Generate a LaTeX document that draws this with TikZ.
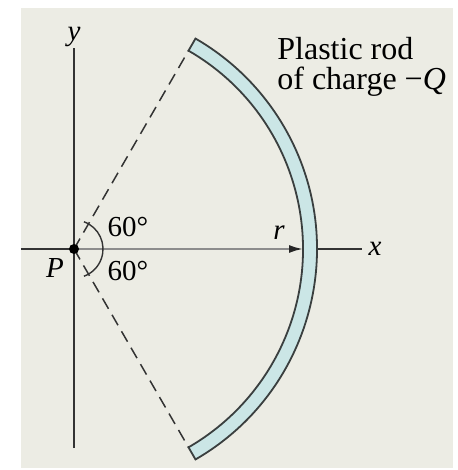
\documentclass[tikz,border=0pt]{standalone}
\usepackage{fontspec}
\setmainfont{Liberation Serif}
\usepackage{xcolor}
\usetikzlibrary{arrows.meta, positioning, calc}

\definecolor{paper}{HTML}{ECECE4}
\definecolor{rodfill}{HTML}{CBE6E6}
\definecolor{rodline}{HTML}{3A3F3F}

\begin{document}
\begin{tikzpicture}[
    x=0.5pt, y=0.5pt,
    axis/.style={line width=1pt, draw=black!80},
    rod/.style={fill=rodfill, draw=rodline, line width=0.9pt, line join=miter},
    guide/.style={dashed, line width=0.75pt, dash pattern=on 6pt off 3.5pt, draw=black!80},
    label/.style={font=\fontsize{14.5}{15}\selectfont, inner sep=1pt},
    biglabel/.style={font=\fontsize{16}{15}\selectfont, inner sep=1pt, anchor=base west},
    angle/.style={line width=0.7pt, draw=black!80}
  ]

    % Page and background
    \useasboundingbox (-74,-221) rectangle (384,249);
    \fill[paper] (-53,-219) rectangle (379,241);

    % Point and rod ends
    \coordinate (P) at (0,0);
    \coordinate (top) at (60:229);
    \coordinate (bot) at (-60:229);
    \coordinate (rin) at (229,0);
    \coordinate (rout) at (243,0);

    % Axes
    \coordinate (ytop) at (0,201);
    \coordinate (ybot) at (0,-199);
    \coordinate (xleft) at (-53,0);
    \coordinate (xright) at (288,0);
    \draw[axis] (ybot) -- (ytop);
    \draw[axis] (xleft) -- (P);
    \draw[axis] (rout) -- (xright);
    \node[label] (ylab) at (0,212) {\textit{y}};
    \node[label] (xlab) at (301,0) {\textit{x}};

    % Dashed guides
    \draw[guide] (P) -- (top);
    \draw[guide] (P) -- (bot);

    % Rod
    \draw[rod] (top) arc[start angle=60, end angle=-60, radius=229]
      -- (-60:243) arc[start angle=-60, end angle=60, radius=243] -- cycle;

    % Radius arrow
    \draw[line width=1pt, draw=black!45, -{Latex[length=7pt, width=4pt, black!85]}] (P) -- (rin);
    \node[label] (rlab) at (205,16) {\textit{r}};

    % Angles
    \draw[angle] (70:29) arc[start angle=70, end angle=-70, radius=29];
    \node[label] (a1) at (54,22) {60°};
    \node[label] (a2) at (54,-22) {60°};

    % Charge point
    \fill[black] (P) circle[radius=5];
    \node[label] (plab) at (-19,-19) {\textit{P}};

    % Rod label
    \node[biglabel] (rod1) at (201,189) {Plastic rod};
    \node[biglabel] (rod2) at (201,159) {of charge −\textit{Q}};

  \end{tikzpicture}
\end{document}
